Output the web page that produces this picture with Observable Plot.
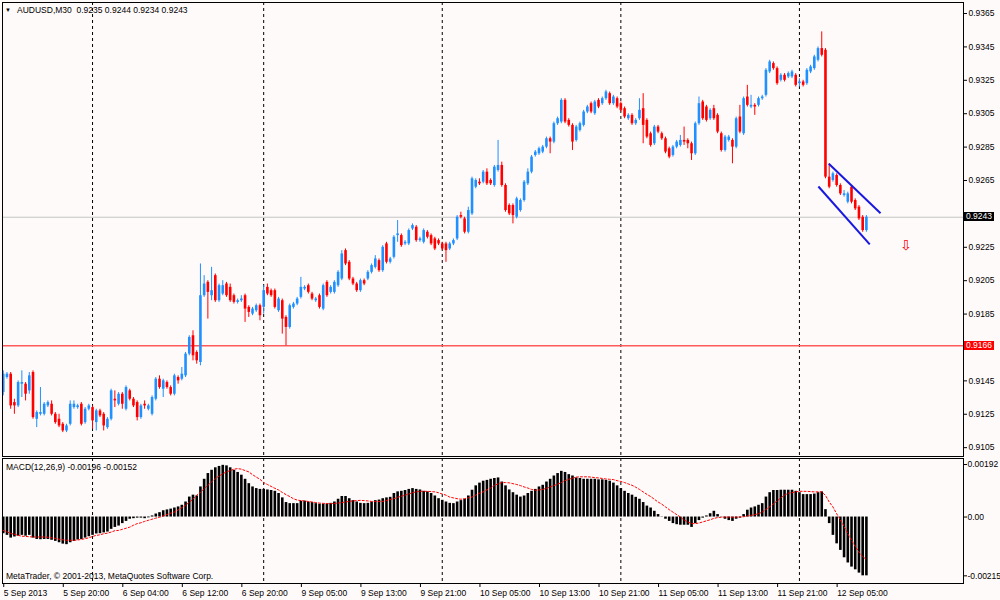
<!DOCTYPE html>
<html><head><meta charset="utf-8">
<script src="https://cdn.jsdelivr.net/npm/d3@7"></script>
<script src="https://cdn.jsdelivr.net/npm/@observablehq/plot@0.6"></script>
<style>
html,body{margin:0;padding:0;background:#fffafa;}
#wrap{position:relative;width:1000px;height:600px;overflow:hidden;background:#fffafa;font-family:"Liberation Sans",Arial,sans-serif;font-size:8.5px;color:#000;}
#wrap svg{position:absolute;left:0;}
.lbl{position:absolute;white-space:nowrap;line-height:1;}
.box{position:absolute;white-space:nowrap;line-height:9px;height:9px;color:#fff;padding:0 2px;}
</style></head><body><div id="wrap"></div>
<script>
// ---- data: 30-minute bars, AUDUSD, 5 Sep 12:00 .. 12 Sep 09:00 (bar index 0..232)
const open = [
0.9138,0.9147,0.9149,0.9132,0.9130,0.9143,0.9143,0.9139,0.9150,0.9122,
0.9125,0.9125,0.9130,0.9131,0.9125,0.9122,0.9119,0.9115,0.9119,0.9129,
0.9129,0.9131,0.9120,0.9128,0.9129,0.9120,0.9127,0.9125,0.9117,0.9122,
0.9134,0.9131,0.9137,0.9128,0.9139,0.9134,0.9132,0.9123,0.9131,0.9128,
0.9125,0.9134,0.9146,0.9140,0.9144,0.9141,0.9137,0.9147,0.9146,0.9148,
0.9161,0.9172,0.9162,0.9156,0.9196,0.9204,0.9196,0.9208,0.9193,0.9197,
0.9203,0.9201,0.9196,0.9192,0.9193,0.9196,0.9189,0.9185,0.9187,0.9190,
0.9189,0.9201,0.9199,0.9199,0.9187,0.9193,0.9183,0.9177,0.9189,0.9191,
0.9195,0.9200,0.9202,0.9197,0.9193,0.9196,0.9188,0.9204,0.9198,0.9198,
0.9202,0.9206,0.9223,0.9216,0.9206,0.9203,0.9199,0.9205,0.9206,0.9210,
0.9213,0.9217,0.9211,0.9227,0.9216,0.9219,0.9232,0.9232,0.9227,0.9227,
0.9236,0.9237,0.9229,0.9228,0.9234,0.9232,0.9230,0.9229,0.9227,0.9227,
0.9224,0.9227,0.9230,0.9244,0.9242,0.9234,0.9245,0.9261,0.9264,0.9264,
0.9270,0.9265,0.9262,0.9271,0.9274,0.9262,0.9250,0.9250,0.9243,0.9247,
0.9253,0.9263,0.9270,0.9280,0.9281,0.9282,0.9285,0.9290,0.9288,0.9299,
0.9300,0.9313,0.9301,0.9298,0.9289,0.9295,0.9298,0.9306,0.9311,0.9305,
0.9313,0.9311,0.9314,0.9317,0.9311,0.9314,0.9311,0.9308,0.9302,0.9304,
0.9299,0.9302,0.9308,0.9301,0.9293,0.9287,0.9297,0.9293,0.9290,0.9284,
0.9280,0.9285,0.9286,0.9289,0.9289,0.9287,0.9281,0.9299,0.9312,0.9309,
0.9302,0.9308,0.9304,0.9293,0.9283,0.9289,0.9289,0.9285,0.9303,0.9293,
0.9315,0.9309,0.9310,0.9310,0.9314,0.9316,0.9330,0.9335,0.9332,0.9325,
0.9328,0.9327,0.9327,0.9328,0.9323,0.9324,0.9323,0.9330,0.9332,0.9337,
0.9344,0.9343,0.9267,0.9265,0.9268,0.9262,0.9256,0.9252,0.9261,0.9253,
0.9249,0.9243,0.9235];
const high = [
0.9151,0.9150,0.9150,0.9134,0.9145,0.9151,0.9144,0.9150,0.9151,0.9127,
0.9141,0.9132,0.9133,0.9133,0.9126,0.9125,0.9120,0.9119,0.9133,0.9133,
0.9131,0.9132,0.9129,0.9131,0.9130,0.9128,0.9128,0.9126,0.9123,0.9140,
0.9139,0.9138,0.9138,0.9142,0.9140,0.9135,0.9133,0.9131,0.9133,0.9131,
0.9136,0.9147,0.9148,0.9146,0.9145,0.9142,0.9149,0.9148,0.9153,0.9162,
0.9172,0.9175,0.9163,0.9215,0.9208,0.9205,0.9213,0.9209,0.9203,0.9205,
0.9204,0.9203,0.9197,0.9194,0.9196,0.9197,0.9190,0.9189,0.9191,0.9191,
0.9202,0.9203,0.9200,0.9200,0.9195,0.9194,0.9184,0.9191,0.9192,0.9195,
0.9207,0.9202,0.9203,0.9198,0.9195,0.9197,0.9203,0.9205,0.9202,0.9205,
0.9211,0.9223,0.9224,0.9217,0.9207,0.9204,0.9206,0.9206,0.9211,0.9215,
0.9220,0.9218,0.9226,0.9228,0.9219,0.9232,0.9241,0.9233,0.9229,0.9236,
0.9239,0.9238,0.9231,0.9236,0.9235,0.9233,0.9231,0.9230,0.9228,0.9228,
0.9228,0.9230,0.9244,0.9246,0.9243,0.9249,0.9267,0.9266,0.9266,0.9271,
0.9272,0.9266,0.9274,0.9289,0.9276,0.9263,0.9251,0.9251,0.9255,0.9254,
0.9265,0.9272,0.9280,0.9283,0.9285,0.9286,0.9291,0.9291,0.9300,0.9303,
0.9314,0.9314,0.9302,0.9299,0.9298,0.9300,0.9307,0.9310,0.9312,0.9313,
0.9314,0.9315,0.9319,0.9318,0.9316,0.9315,0.9312,0.9309,0.9305,0.9305,
0.9302,0.9314,0.9317,0.9302,0.9294,0.9298,0.9298,0.9294,0.9291,0.9285,
0.9286,0.9289,0.9292,0.9297,0.9290,0.9288,0.9300,0.9315,0.9313,0.9310,
0.9308,0.9310,0.9305,0.9294,0.9292,0.9292,0.9290,0.9303,0.9310,0.9315,
0.9322,0.9316,0.9311,0.9315,0.9316,0.9332,0.9337,0.9336,0.9333,0.9329,
0.9329,0.9330,0.9331,0.9329,0.9326,0.9325,0.9332,0.9334,0.9340,0.9345,
0.9354,0.9344,0.9275,0.9270,0.9269,0.9263,0.9259,0.9258,0.9262,0.9254,
0.9250,0.9244,0.9244];
const low = [
0.9136,0.9146,0.9128,0.9125,0.9129,0.9135,0.9133,0.9137,0.9122,0.9117,
0.9124,0.9124,0.9129,0.9124,0.9119,0.9117,0.9114,0.9114,0.9118,0.9128,
0.9128,0.9118,0.9119,0.9127,0.9116,0.9115,0.9123,0.9115,0.9116,0.9121,
0.9129,0.9130,0.9128,0.9127,0.9133,0.9129,0.9121,0.9122,0.9128,0.9127,
0.9124,0.9133,0.9140,0.9135,0.9140,0.9136,0.9136,0.9143,0.9145,0.9147,
0.9160,0.9157,0.9155,0.9154,0.9195,0.9182,0.9193,0.9192,0.9192,0.9196,
0.9195,0.9192,0.9191,0.9191,0.9192,0.9180,0.9183,0.9184,0.9186,0.9181,
0.9185,0.9196,0.9195,0.9188,0.9186,0.9173,0.9166,0.9176,0.9188,0.9190,
0.9194,0.9199,0.9197,0.9193,0.9192,0.9188,0.9187,0.9195,0.9197,0.9197,
0.9201,0.9205,0.9214,0.9205,0.9202,0.9198,0.9198,0.9202,0.9205,0.9209,
0.9212,0.9210,0.9210,0.9215,0.9215,0.9218,0.9228,0.9225,0.9226,0.9226,
0.9235,0.9228,0.9228,0.9227,0.9230,0.9226,0.9223,0.9226,0.9223,0.9216,
0.9223,0.9226,0.9229,0.9242,0.9233,0.9233,0.9244,0.9260,0.9262,0.9263,
0.9262,0.9262,0.9261,0.9270,0.9261,0.9246,0.9244,0.9239,0.9242,0.9246,
0.9252,0.9262,0.9269,0.9279,0.9280,0.9281,0.9284,0.9281,0.9287,0.9298,
0.9299,0.9299,0.9297,0.9283,0.9288,0.9294,0.9297,0.9305,0.9305,0.9304,
0.9308,0.9310,0.9313,0.9310,0.9310,0.9308,0.9306,0.9302,0.9301,0.9298,
0.9298,0.9301,0.9287,0.9290,0.9285,0.9286,0.9293,0.9289,0.9281,0.9278,
0.9279,0.9284,0.9285,0.9286,0.9284,0.9277,0.9280,0.9298,0.9301,0.9300,
0.9301,0.9301,0.9293,0.9282,0.9282,0.9288,0.9275,0.9284,0.9293,0.9292,
0.9309,0.9308,0.9304,0.9309,0.9313,0.9315,0.9329,0.9331,0.9322,0.9324,
0.9324,0.9326,0.9326,0.9321,0.9321,0.9321,0.9322,0.9329,0.9331,0.9336,
0.9339,0.9266,0.9260,0.9264,0.9261,0.9256,0.9255,0.9251,0.9251,0.9247,
0.9241,0.9234,0.9234];
const close = [
0.9149,0.9149,0.9130,0.9130,0.9144,0.9144,0.9137,0.9148,0.9123,0.9126,
0.9126,0.9131,0.9132,0.9125,0.9120,0.9118,0.9115,0.9118,0.9131,0.9131,
0.9130,0.9119,0.9128,0.9130,0.9121,0.9127,0.9124,0.9118,0.9122,0.9139,
0.9133,0.9137,0.9131,0.9141,0.9134,0.9130,0.9123,0.9130,0.9130,0.9130,
0.9135,0.9146,0.9141,0.9145,0.9141,0.9137,0.9148,0.9145,0.9149,0.9161,
0.9171,0.9160,0.9157,0.9196,0.9203,0.9198,0.9199,0.9193,0.9202,0.9202,
0.9196,0.9193,0.9192,0.9193,0.9194,0.9188,0.9186,0.9188,0.9190,0.9184,
0.9199,0.9197,0.9196,0.9189,0.9194,0.9182,0.9177,0.9190,0.9191,0.9194,
0.9201,0.9201,0.9198,0.9194,0.9194,0.9189,0.9202,0.9196,0.9201,0.9204,
0.9210,0.9221,0.9215,0.9206,0.9203,0.9199,0.9205,0.9203,0.9210,0.9214,
0.9218,0.9211,0.9225,0.9216,0.9218,0.9231,0.9233,0.9226,0.9228,0.9235,
0.9238,0.9229,0.9230,0.9235,0.9231,0.9227,0.9224,0.9227,0.9224,0.9223,
0.9227,0.9229,0.9243,0.9243,0.9234,0.9247,0.9266,0.9265,0.9263,0.9270,
0.9263,0.9263,0.9273,0.9274,0.9262,0.9247,0.9245,0.9244,0.9254,0.9253,
0.9264,0.9270,0.9279,0.9282,0.9284,0.9285,0.9290,0.9288,0.9299,0.9302,
0.9313,0.9300,0.9298,0.9288,0.9297,0.9299,0.9306,0.9309,0.9306,0.9312,
0.9309,0.9314,0.9318,0.9311,0.9315,0.9309,0.9307,0.9303,0.9304,0.9299,
0.9301,0.9307,0.9298,0.9291,0.9286,0.9297,0.9294,0.9290,0.9282,0.9279,
0.9285,0.9288,0.9289,0.9288,0.9287,0.9281,0.9299,0.9311,0.9302,0.9301,
0.9307,0.9302,0.9294,0.9283,0.9291,0.9291,0.9285,0.9302,0.9294,0.9314,
0.9310,0.9310,0.9309,0.9314,0.9315,0.9331,0.9336,0.9332,0.9323,0.9328,
0.9325,0.9329,0.9330,0.9322,0.9324,0.9322,0.9331,0.9333,0.9339,0.9344,
0.9340,0.9267,0.9261,0.9269,0.9262,0.9257,0.9257,0.9257,0.9252,0.9248,
0.9242,0.9235,0.9243];
// MACD(12,26,9) main (histogram) and signal (dotted)
const macdMain = [
-0.00061,-0.00067,-0.00077,-0.00073,-0.00070,-0.00067,-0.00070,-0.00067,-0.00077,-0.00082,
-0.00083,-0.00082,-0.00082,-0.00085,-0.00089,-0.00094,-0.00099,-0.00101,-0.00094,-0.00089,
-0.00084,-0.00082,-0.00077,-0.00072,-0.00067,-0.00062,-0.00061,-0.00058,-0.00055,-0.00045,
-0.00038,-0.00033,-0.00024,-0.00016,-0.00008,-0.00006,-0.00004,-0.00004,-0.00006,-0.00003,
0.00004,0.00011,0.00016,0.00023,0.00026,0.00029,0.00033,0.00037,0.00043,0.00055,
0.00073,0.00080,0.00077,0.00110,0.00138,0.00159,0.00171,0.00180,0.00185,0.00189,
0.00187,0.00180,0.00171,0.00163,0.00153,0.00138,0.00122,0.00110,0.00104,0.00101,
0.00101,0.00099,0.00097,0.00094,0.00086,0.00070,0.00053,0.00049,0.00049,0.00049,
0.00058,0.00058,0.00055,0.00053,0.00049,0.00047,0.00047,0.00048,0.00050,0.00055,
0.00065,0.00075,0.00075,0.00067,0.00060,0.00055,0.00050,0.00049,0.00050,0.00055,
0.00060,0.00062,0.00067,0.00070,0.00072,0.00086,0.00092,0.00094,0.00097,0.00101,
0.00104,0.00101,0.00099,0.00094,0.00092,0.00086,0.00077,0.00067,0.00061,0.00055,
0.00050,0.00049,0.00055,0.00060,0.00065,0.00077,0.00098,0.00114,0.00124,0.00131,
0.00134,0.00138,0.00141,0.00143,0.00128,0.00114,0.00099,0.00089,0.00080,0.00073,
0.00077,0.00086,0.00094,0.00101,0.00110,0.00116,0.00128,0.00138,0.00150,0.00159,
0.00167,0.00163,0.00155,0.00150,0.00143,0.00141,0.00138,0.00138,0.00138,0.00138,
0.00136,0.00136,0.00134,0.00131,0.00124,0.00114,0.00104,0.00094,0.00086,0.00080,
0.00072,0.00065,0.00053,0.00040,0.00033,0.00021,0.00009,0.00001,-0.00008,-0.00016,
-0.00024,-0.00028,-0.00030,-0.00030,-0.00030,-0.00038,-0.00024,-0.00013,-0.00004,0.00004,
0.00012,0.00021,0.00009,0.00001,-0.00008,-0.00013,-0.00016,-0.00008,-0.00004,0.00009,
0.00025,0.00033,0.00037,0.00043,0.00049,0.00073,0.00089,0.00097,0.00097,0.00098,
0.00098,0.00098,0.00098,0.00094,0.00089,0.00082,0.00082,0.00082,0.00084,0.00089,
0.00092,0.00027,-0.00024,-0.00067,-0.00098,-0.00122,-0.00149,-0.00168,-0.00183,-0.00193,
-0.00205,-0.00215,-0.00215];
const macdSignal = [
-0.00049,-0.00054,-0.00060,-0.00063,-0.00067,-0.00070,-0.00071,-0.00072,-0.00073,-0.00073,
-0.00073,-0.00073,-0.00074,-0.00076,-0.00078,-0.00081,-0.00083,-0.00085,-0.00085,-0.00085,
-0.00084,-0.00082,-0.00079,-0.00076,-0.00071,-0.00067,-0.00065,-0.00061,-0.00059,-0.00055,
-0.00050,-0.00049,-0.00045,-0.00041,-0.00037,-0.00030,-0.00024,-0.00021,-0.00016,-0.00012,
-0.00008,-0.00004,-0.00001,0.00004,0.00009,0.00014,0.00018,0.00026,0.00034,0.00043,
0.00054,0.00065,0.00080,0.00090,0.00104,0.00116,0.00128,0.00141,0.00150,0.00158,
0.00165,0.00170,0.00175,0.00177,0.00175,0.00170,0.00165,0.00155,0.00146,0.00138,
0.00126,0.00119,0.00112,0.00105,0.00099,0.00090,0.00082,0.00075,0.00067,0.00062,
0.00060,0.00059,0.00057,0.00055,0.00053,0.00051,0.00050,0.00049,0.00049,0.00050,
0.00051,0.00053,0.00055,0.00057,0.00059,0.00060,0.00061,0.00060,0.00059,0.00057,
0.00057,0.00057,0.00057,0.00060,0.00064,0.00067,0.00072,0.00076,0.00080,0.00084,
0.00089,0.00092,0.00094,0.00094,0.00094,0.00093,0.00092,0.00089,0.00084,0.00080,
0.00073,0.00070,0.00067,0.00065,0.00067,0.00070,0.00073,0.00080,0.00087,0.00092,
0.00099,0.00106,0.00116,0.00121,0.00126,0.00126,0.00125,0.00122,0.00119,0.00115,
0.00110,0.00106,0.00101,0.00098,0.00099,0.00101,0.00105,0.00110,0.00115,0.00120,
0.00126,0.00133,0.00138,0.00142,0.00146,0.00147,0.00147,0.00147,0.00146,0.00144,
0.00143,0.00141,0.00139,0.00138,0.00137,0.00133,0.00130,0.00126,0.00121,0.00116,
0.00109,0.00101,0.00092,0.00083,0.00075,0.00065,0.00055,0.00047,0.00037,0.00027,
0.00018,0.00009,0.00000,-0.00011,-0.00018,-0.00024,-0.00024,-0.00022,-0.00018,-0.00014,
-0.00010,-0.00005,-0.00002,-0.00001,0.00000,0.00000,-0.00001,0.00000,0.00000,0.00001,
0.00004,0.00006,0.00009,0.00012,0.00018,0.00028,0.00037,0.00048,0.00059,0.00070,
0.00080,0.00087,0.00089,0.00092,0.00094,0.00094,0.00094,0.00093,0.00092,0.00092,
0.00092,0.00079,0.00055,0.00037,0.00012,-0.00010,-0.00034,-0.00061,-0.00085,-0.00107,
-0.00128,-0.00145,-0.00155];
// time axis: bar index of each label, and the label text
const timeTickIdx = [0,16,32,48,64,80,96,112,128,144,160,176,192,208,224];
const timeTickLabels = ["5 Sep 2013","5 Sep 20:00","6 Sep 04:00","6 Sep 12:00","6 Sep 20:00",
 "9 Sep 05:00","9 Sep 13:00","9 Sep 21:00","10 Sep 05:00","10 Sep 13:00","10 Sep 21:00",
 "11 Sep 05:00","11 Sep 13:00","11 Sep 21:00","12 Sep 05:00"];
// day separators (bar index of 00:00 of each day)
const daySepIdx = [24,70,118,166,214];
// price scale ticks (0.9165 and 0.9245 labels are hidden behind the level boxes)
const priceTicks = [0.9105,0.9125,0.9145,0.9165,0.9185,0.9205,0.9225,0.9245,0.9265,0.9285,0.9305,0.9325,0.9345,0.9365];
const hiddenPriceLabels = [0.9165, 0.9245];
const macdTicks = [0.00192, 0, -0.00215];
const macdTickLabels = ["0.00192","0.00","-0.00215"];
// horizontal levels
const supportLevel = 0.9166;
const bidLevel = 0.9243;
// drawn down-channel (bar index, price)
const channelLines = [
 {x1:221.9, y1:0.92750, x2:235.8, y2:0.92454},
 {x1:219.1, y1:0.92614, x2:232.9, y2:0.92267}
];
const arrowSignals = [{i:242.6, p:0.92261}];
const header = "AUDUSD,M30  0.9235 0.9244 0.9234 0.9243";
const macdHeader = "MACD(12,26,9) -0.00196 -0.00152";
const copyright = "MetaTrader, \u00A9 2001-2013, MetaQuotes Software Corp.";

// ---- build
const bull = "#1e90ff", bear = "#ff0000";
const candles = open.map((o, i) => ({i, o, h: high[i], l: low[i], c: close[i], col: close[i] >= o ? bull : bear}));
const macdData = macdMain.map((m, i) => ({i, m, s: macdSignal[i]}));
const xDomain = [-0.2, 258.1];
const styleStr = "font-family:'Liberation Sans',Arial,sans-serif;font-size:8.5px;background:transparent;color:#000;overflow:visible;";

const main = Plot.plot({
  width: 1000, height: 458,
  marginLeft: 2, marginRight: 37, marginTop: 2, marginBottom: 2,
  x: {domain: xDomain, axis: null},
  y: {domain: [0.90997, 0.93716], axis: null},
  color: {type: "identity"},
  style: styleStr,
  marks: [
    Plot.ruleX(daySepIdx, {stroke: "#000", strokeDasharray: "3,3", strokeWidth: 1}),
    Plot.ruleY([supportLevel], {stroke: "#ff5a5a", strokeWidth: 1.5}),
    Plot.ruleY([bidLevel], {stroke: "#c4c4c4", strokeWidth: 1}),
    Plot.ruleX(candles, {x: "i", y1: "l", y2: "h", stroke: "col", strokeWidth: 1}),
    Plot.ruleX(candles, {x: "i", y1: "o", y2: "c", stroke: "col", strokeWidth: 2.6}),
    Plot.link(channelLines, {x1: "x1", y1: "y1", x2: "x2", y2: "y2", stroke: "#1818e0", strokeWidth: 2}),
    Plot.text(arrowSignals, {x: "i", y: "p", text: () => "\u21E9", fill: "#ff0000", fontSize: 14, fontFamily: "DejaVu Sans"}),
    Plot.frame({stroke: "#000"}),
    Plot.axisY(priceTicks, {anchor: "right", label: null, tickSize: 3, tickPadding: 2,
      tickFormat: d => hiddenPriceLabels.includes(d) ? "" : d.toFixed(4), fontSize: 8.5})
  ]
});
main.style.top = "0px";

const macd = Plot.plot({
  width: 1000, height: 143,
  marginLeft: 2, marginRight: 37, marginTop: 1, marginBottom: 17,
  x: {domain: xDomain, axis: null},
  y: {domain: [-0.00243, 0.00214], axis: null},
  style: styleStr,
  marks: [
    Plot.ruleX(daySepIdx, {stroke: "#000", strokeDasharray: "3,3", strokeWidth: 1}),
    Plot.ruleX(macdData, {x: "i", y1: 0, y2: "m", stroke: "#000", strokeWidth: 2.6}),
    Plot.line(macdData, {x: "i", y: "s", stroke: "#ff0000", strokeWidth: 1, strokeDasharray: "2,2"}),
    Plot.frame({stroke: "#000"}),
    Plot.axisY(macdTicks, {anchor: "right", label: null, tickSize: 3, tickPadding: 1, tickFormat: d => macdTickLabels[macdTicks.indexOf(d)], fontSize: 8.5}),
    Plot.axisX(timeTickIdx, {anchor: "bottom", label: null, tickSize: 4, tickPadding: 2, textAnchor: "start", dx: 0.5, tickFormat: d => timeTickLabels[timeTickIdx.indexOf(d)], fontSize: 8.5})
  ]
});
macd.style.top = "457px";

const wrap = document.getElementById("wrap");
wrap.appendChild(main);
wrap.appendChild(macd);

// price labels boxes on the right scale, placed with the plot's y scale
const ys = main.scale("y");
function addBox(val, bg) {
  const d = document.createElement("div");
  d.className = "box";
  d.style.left = "964px";
  d.style.top = (ys.apply(val) - 4.5) + "px";
  d.style.background = bg;
  d.textContent = val.toFixed(4);
  wrap.appendChild(d);
}
addBox(bidLevel, "#000");
addBox(supportLevel, "#ff0000");

function addLabel(text, left, top, extra) {
  const d = document.createElement("div");
  d.className = "lbl";
  d.style.left = left + "px";
  d.style.top = top + "px";
  d.textContent = text;
  if (extra) Object.assign(d.style, extra);
  wrap.appendChild(d);
}
addLabel("\u25BC", 5, 7, {fontSize: "6px"});
addLabel(header, 17, 5.5, {whiteSpace: "pre"});
addLabel(macdHeader, 6, 462.5);
addLabel(copyright, 6, 572);
</script>
</body></html>
